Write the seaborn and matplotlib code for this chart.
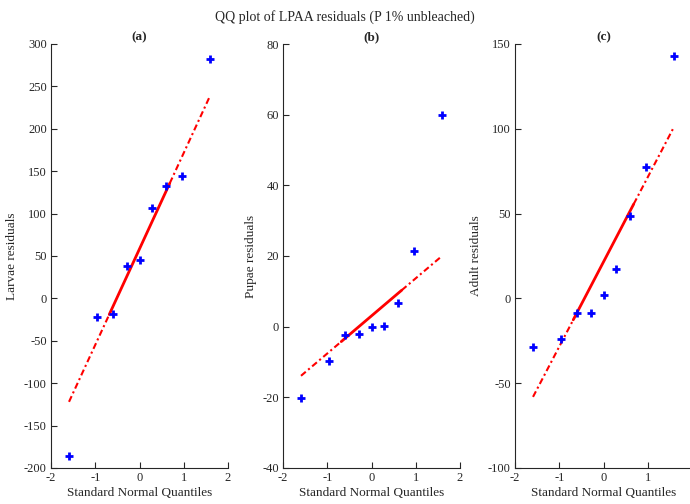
import numpy as np
import pandas as pd
import matplotlib
matplotlib.use("Agg")
import matplotlib.pyplot as plt
import seaborn as sns

# Standard normal quantiles for n = 9 (MATLAB qqplot positions)
quantiles = [-1.593, -0.967, -0.589, -0.282, 0.0, 0.282, 0.589, 0.967, 1.593]

larvae = [-186, -22, -18, 38, 45, 107, 133, 144, 282]
pupae = [-20.3, -9.7, -2.4, -2.1, 0.0, 0.2, 6.6, 21.5, 60.0]
adult = [-28.9, -23.8, -8.9, -8.8, 1.9, 17.6, 48.4, 77.5, 143.1]

panel_titles = ["(a)", "(b)", "(c)"]
ylabels = ["Larvae residuals", "Pupae residuals", "Adult residuals"]
ylims = [(-200, 300), (-40, 80), (-100, 150)]
yticks = [list(range(-200, 301, 50)), list(range(-40, 81, 20)), list(range(-100, 151, 50))]
xticks = [-2, -1, 0, 1, 2]
suptitle = "QQ plot of LPAA residuals (P 1% unbleached)"

sns.set_theme(style="white")
plt.rcParams['font.family'] = ['Liberation Serif', 'DejaVu Serif']
plt.rcParams['mathtext.fontset'] = 'stix'

fig = plt.figure(figsize=(6.9, 5.04), dpi=100)
lefts = [51 / 690, 283 / 690, 515 / 690]
width = 177 / 690
bottom = 36 / 504
height = 424 / 504
axcol = "#262626"


def prctile(v, p):
    v = np.sort(np.asarray(v, dtype=float))
    n = len(v)
    pos = p / 100 * n + 0.5
    lo = int(np.floor(pos))
    frac = pos - lo
    return v[lo - 1] + frac * (v[lo] - v[lo - 1])


for i, ys in enumerate([larvae, pupae, adult]):
    ax = fig.add_axes([lefts[i], bottom, width, height])
    df = pd.DataFrame({"q": quantiles, "r": ys})
    # reference line through first and third quartiles
    x1, x3 = prctile(quantiles, 25), prctile(quantiles, 75)
    y1, y3 = prctile(ys, 25), prctile(ys, 75)
    slope = (y3 - y1) / (x3 - x1)
    xmin, xmax = min(quantiles), max(quantiles)
    f = lambda x: y1 + slope * (x - x1)
    solid = pd.DataFrame({"q": [x1, x3], "r": [f(x1), f(x3)]})
    ext = pd.DataFrame({"q": [xmin, x1, x3, xmax], "r": [f(xmin), f(x1), f(x3), f(xmax)],
                        "seg": [0, 0, 1, 1]})
    for s in [0, 1]:
        sub = ext[ext.seg == s]
        ax.plot(sub.q, sub.r, color="red", lw=1.5, ls=(0, (3, 1.5, 1, 1.5)))
    sns.lineplot(data=solid, x="q", y="r", ax=ax, color="red", lw=2.0, sort=False)
    sns.scatterplot(data=df, x="q", y="r", ax=ax, marker="+", color="blue",
                    s=40, linewidth=2.0, zorder=5)
    ax.set_xlim(-2, 2)
    ax.set_ylim(*ylims[i])
    ax.set_xticks(xticks)
    ax.set_yticks(yticks[i])
    xl = [str(t) for t in xticks]
    if i == 2:
        xl[-1] = ""  # clipped by the figure edge in the reference
    ax.set_xticklabels(xl)
    ax.set_yticklabels([str(t) for t in yticks[i]])
    ax.set_xlabel("Standard Normal Quantiles", fontsize=9.5, color=axcol, labelpad=2)
    ax.set_ylabel(ylabels[i], fontsize=9.5, color=axcol, labelpad=4)
    ax.set_title(panel_titles[i], fontsize=9.5, fontweight="bold", pad=3)
    for sp in ["top", "right"]:
        ax.spines[sp].set_visible(False)
    for sp in ["left", "bottom"]:
        ax.spines[sp].set_color(axcol)
        ax.spines[sp].set_linewidth(0.8)
    ax.tick_params(direction="in", length=4, width=0.8, color=axcol,
                   labelcolor=axcol, labelsize=9, left=True, bottom=True, pad=3)

fig.text(0.5, 1 - 17 / 504, suptitle, ha="center", va="center", fontsize=10, color=axcol)
fig.savefig("out.png", dpi=100)
